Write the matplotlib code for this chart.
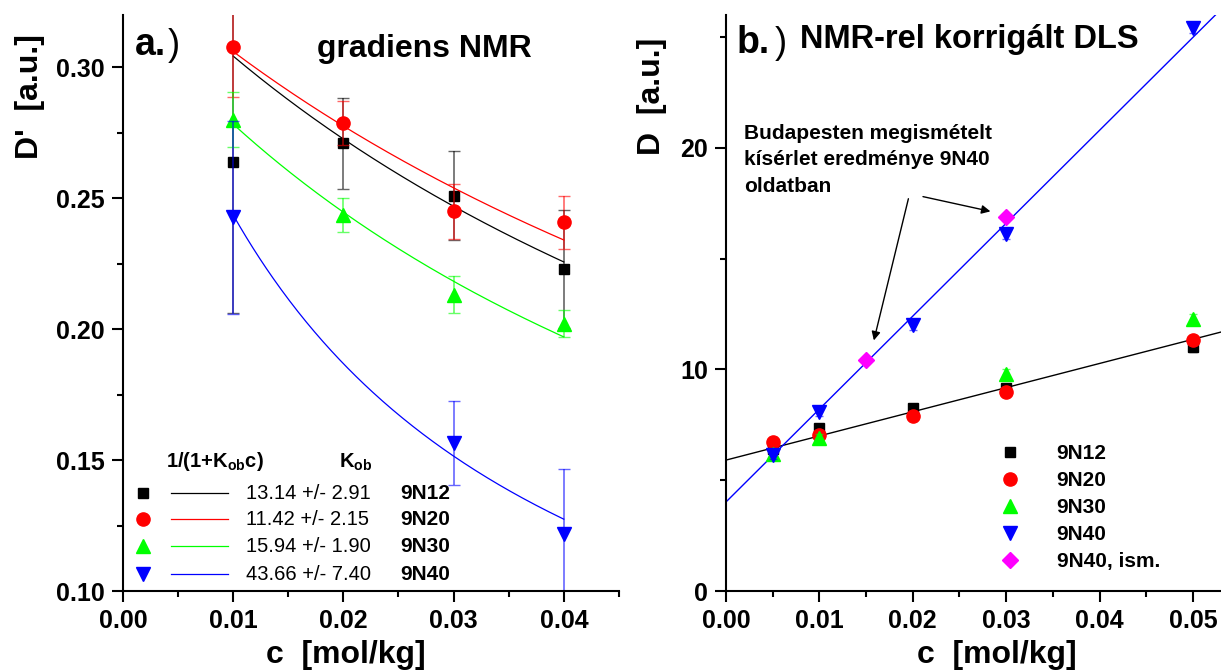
import numpy as np
import matplotlib.pyplot as plt

plt.rcParams['font.family'] = ['Liberation Sans', 'DejaVu Sans']
plt.rcParams['mathtext.fontset'] = 'custom'
plt.rcParams['mathtext.rm'] = 'Liberation Sans:bold'
plt.rcParams['font.weight'] = 'bold'

# ---- a.) gradiens NMR ----
c_a = [0.01, 0.02, 0.03, 0.04]
d_9n12 = [0.264, 0.271, 0.251, 0.223]
e_9n12 = [0.058, 0.0175, 0.017, 0.0224]
d_9n20 = [0.3077, 0.2787, 0.245, 0.2409]
e_9n20 = [0.019, 0.0084, 0.0105, 0.0101]
d_9n30 = [0.280, 0.2438, 0.2132, 0.2021]
e_9n30 = [0.0105, 0.0065, 0.007, 0.0052]
c_a40 = [0.01, 0.03, 0.04]
d_9n40 = [0.2427, 0.1566, 0.1218]
e_9n40 = [0.037, 0.016, 0.0249]

# fit 1/(1+K_ob c): K_ob from the legend, D0
k_ob = [13.14, 11.42, 15.94, 43.66]
k_err = [2.91, 2.15, 1.90, 7.40]
d0_fit = [0.3443, 0.341, 0.3227, 0.350]
names = ['9N12', '9N20', '9N30', '9N40']

# ---- b.) NMR-rel korrigált DLS ----
c_b = [0.005, 0.01, 0.02, 0.03, 0.05]
b_9n12 = [6.41, 7.36, 8.26, 9.16, 11.0]
b_9n20 = [6.74, 7.04, 7.9, 9.0, 11.33]
c_b30 = [0.005, 0.01, 0.03, 0.05]
b_9n30 = [6.18, 6.9, 9.8, 12.3]
b_9n40 = [6.14, 8.08, 12.0, 16.1, 25.4]
c_ism = [0.015, 0.03]
b_ism = [10.43, 16.9]
b_err = 0.2
# straight fit lines (end points)
fit_x_low = [0.0, 0.053]
fit_y_low = [5.91, 11.69]
fit_x_high = [0.0, 0.0524]
fit_y_high = [4.02, 26.0]

colors = ['black', '#ff0000', '#00ff00', '#0000ff']
markers = ['s', 'o', '^', 'v']
msizes = [7, 9.5, 10, 10]

fig = plt.figure(figsize=(12.21, 6.71), dpi=100)
ax1 = fig.add_axes([0.1007, 0.1192, 0.4062, 0.8584])
ax2 = fig.add_axes([0.5946, 0.1192, 0.4054, 0.8584])

# panel a
series_a = [(c_a, d_9n12, e_9n12), (c_a, d_9n20, e_9n20),
            (c_a, d_9n30, e_9n30), (c_a40, d_9n40, e_9n40)]
c_fit = np.linspace(0.01, 0.04, 200)
for i, (cx, dy, de) in enumerate(series_a):
    ax1.errorbar(cx, dy, yerr=de, fmt='none', ecolor=colors[i], elinewidth=1.2,
                 capsize=4, capthick=1, alpha=0.6)
    ax1.plot(cx, dy, ls='none', marker=markers[i], ms=msizes[i], color=colors[i])
    ax1.plot(c_fit, d0_fit[i] / (1 + k_ob[i] * c_fit), color=colors[i], lw=0.9)

ax1.set_xlim(0, 0.045)
ax1.set_ylim(0.10, 0.32)
ax1.set_xticks([0.00, 0.01, 0.02, 0.03, 0.04])
ax1.set_xticks(np.arange(0.005, 0.046, 0.01), minor=True)
ax1.set_yticks([0.10, 0.15, 0.20, 0.25, 0.30])
ax1.set_yticks([0.125, 0.175, 0.225, 0.275], minor=True)
ax1.xaxis.set_major_formatter(plt.FormatStrFormatter('%.2f'))
ax1.yaxis.set_major_formatter(plt.FormatStrFormatter('%.2f'))

# hand-made legend of panel a
hdr_y = 0.224
row_y = [0.170, 0.125, 0.078, 0.0295]
ax1.text(0.0867, hdr_y, r'1/(1+K$_\mathrm{ob}$c)', transform=ax1.transAxes,
         fontsize=14.5, fontweight='bold', va='center')
ax1.text(0.435, hdr_y, r'K$_\mathrm{ob}$', transform=ax1.transAxes,
         fontsize=14.5, fontweight='bold', va='center')
for i in range(4):
    ax1.plot([0.040], [row_y[i]], transform=ax1.transAxes, ls='none',
             marker=markers[i], ms=msizes[i], color=colors[i], clip_on=False)
    ax1.plot([0.097, 0.212], [row_y[i]] * 2, transform=ax1.transAxes,
             color=colors[i], lw=0.9, clip_on=False)
    ax1.text(0.248, row_y[i], f'{k_ob[i]:.2f} +/- {k_err[i]:.2f}', transform=ax1.transAxes,
             fontsize=14.5, fontweight='normal', va='center')
    ax1.text(0.560, row_y[i], names[i], transform=ax1.transAxes,
             fontsize=15, fontweight='bold', va='center')

# panel b
ax2.plot(fit_x_low, fit_y_low, color='black', lw=1)
ax2.plot(fit_x_high, fit_y_high, color='#0000ff', lw=1)
series_b = [(c_b, b_9n12), (c_b, b_9n20), (c_b30, b_9n30), (c_b, b_9n40)]
handles = []
for i, (cx, by) in enumerate(series_b):
    ax2.errorbar(cx, by, yerr=b_err, fmt='none', ecolor=colors[i], elinewidth=1,
                 capsize=3, capthick=1, alpha=0.6)
    h, = ax2.plot(cx, by, ls='none', marker=markers[i], ms=msizes[i],
                  color=colors[i], label=names[i])
    handles.append(h)
h, = ax2.plot(c_ism, b_ism, ls='none', marker='D', ms=8.5, color='#ff00ff',
              label='9N40, ism.')
handles.append(h)

ax2.set_xlim(0, 0.053)
ax2.set_ylim(0, 26)
ax2.set_xticks([0.00, 0.01, 0.02, 0.03, 0.04, 0.05])
ax2.set_xticks(np.arange(0.005, 0.053, 0.01), minor=True)
ax2.set_yticks([0, 10, 20])
ax2.set_yticks([5, 15, 25], minor=True)
ax2.xaxis.set_major_formatter(plt.FormatStrFormatter('%.2f'))

ax2.legend(handles=handles, loc='upper left', bbox_to_anchor=(0.531, 0.2546),
           frameon=False, borderpad=0, borderaxespad=0, handlelength=2.0,
           handletextpad=1.25, labelspacing=0.38,
           prop={'size': 15, 'weight': 'bold'})

ax2.text(0.0019, 21.1, 'Budapesten megismételt\nkísérlet eredménye 9N40\noldatban',
         fontsize=15, fontweight='bold', va='top', ha='left', linespacing=1.5)
arrow = dict(arrowstyle='-|>', color='black', lw=1, mutation_scale=13)
ax2.annotate('', xy=(0.01576, 11.19), xytext=(0.0196, 17.83), arrowprops=arrow)
ax2.annotate('', xy=(0.0286, 17.11), xytext=(0.0208, 17.83), arrowprops=arrow)

for ax in (ax1, ax2):
    ax.spines['top'].set_visible(False)
    ax.spines['right'].set_visible(False)
    ax.spines['left'].set_linewidth(1.5)
    ax.spines['bottom'].set_linewidth(1.5)
    ax.tick_params(which='major', direction='out', length=8, width=1.5,
                   labelsize=18, pad=5)
    ax.tick_params(which='minor', direction='out', length=4.5, width=1.5)
    for lab in ax.get_xticklabels() + ax.get_yticklabels():
        lab.set_fontweight('bold')

ax1.set_xlabel('c  [mol/kg]', fontsize=23, fontweight='bold', va='center')
ax1.xaxis.set_label_coords(0.4496, -0.111)
ax1.set_ylabel("D'  [a.u.]", fontsize=23, fontweight='bold', va='center')
ax1.yaxis.set_label_coords(-0.1875, 0.858)
ax2.set_xlabel('c  [mol/kg]', fontsize=23, fontweight='bold', va='center')
ax2.xaxis.set_label_coords(0.547, -0.111)
ax2.set_ylabel('D  [a.u.]', fontsize=23, fontweight='bold', va='center')
ax2.yaxis.set_label_coords(-0.1495, 0.859)

# panel titles
fig.text(0.1106, 0.918, 'a.', fontsize=27, fontweight='bold', va='baseline')
fig.text(0.1376, 0.918, ')', fontsize=26, fontweight='normal', va='baseline')
fig.text(0.2596, 0.915, 'gradiens NMR', fontsize=23, fontweight='bold', va='baseline')
fig.text(0.6036, 0.921, 'b.', fontsize=27, fontweight='bold', va='baseline')
fig.text(0.6347, 0.921, ')', fontsize=26, fontweight='normal', va='baseline')
fig.text(0.6552, 0.9285, 'NMR-rel korrigált DLS', fontsize=23.5, fontweight='bold',
         va='baseline')

fig.savefig('out.png', dpi=100)
